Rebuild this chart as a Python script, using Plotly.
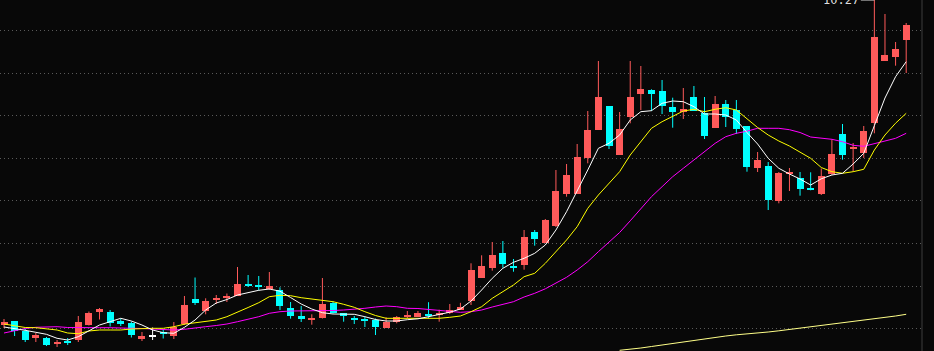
import plotly.graph_objects as go

opens = [7.02, 7.06, 6.96, 6.89, 6.89, 6.83, 6.865, 6.87, 7.02, 7.15, 7.15, 7.06, 7.04, 6.88, 6.905, 6.94, 6.91, 7.03, 7.28, 7.16,
         7.27, 7.29, 7.31, 7.43, 7.413, 7.383, 7.37, 7.19, 7.11, 7.075, 7.093, 7.24, 7.137, 7.073, 7.063, 7.07, 6.993, 7.05, 7.10, 7.102,
         7.13, 7.117, 7.14, 7.173, 7.263, 7.493, 7.593, 7.74, 7.61, 7.62, 7.95, 7.84, 8.013, 8.33, 8.33, 8.693, 8.97, 9.21, 8.723, 9.103,
         9.333, 9.37, 9.36, 9.20, 9.15, 9.30, 9.145, 8.99, 9.23, 9.17, 9.01, 8.593, 8.61, 8.26, 8.535, 8.487, 8.373, 8.333, 8.53, 8.93,
         8.785, 8.743, 9.043, 9.663, 9.703, 9.873]
highs = [7.08, 7.06, 6.98, 6.94, 6.90, 6.87, 6.89, 7.11, 7.155, 7.19, 7.17, 7.085, 7.055, 6.95, 6.995, 6.97, 7.05, 7.31, 7.495, 7.287,
         7.32, 7.335, 7.60, 7.52, 7.51, 7.55, 7.397, 7.25, 7.21, 7.127, 7.49, 7.257, 7.14, 7.11, 7.102, 7.085, 7.097, 7.11, 7.16, 7.16,
         7.248, 7.173, 7.23, 7.242, 7.637, 7.717, 7.85, 7.86, 7.68, 7.97, 7.97, 8.08, 8.57, 8.63, 8.83, 9.16, 9.66, 9.21, 9.15, 9.66,
         9.61, 9.377, 9.47, 9.293, 9.39, 9.41, 9.30, 9.31, 9.27, 9.27, 9.01, 8.75, 8.65, 8.55, 8.59, 8.55, 8.547, 8.585, 8.877, 9.03,
         8.84, 9.01, 10.27, 10.13, 9.85, 10.04]
lows = [6.99, 6.91, 6.85, 6.85, 6.81, 6.80, 6.82, 6.85, 7.015, 7.075, 7.005, 7.01, 6.895, 6.86, 6.87, 6.885, 6.88, 7.02, 7.22, 7.127,
        7.23, 7.25, 7.31, 7.40, 7.365, 7.37, 7.17, 7.083, 7.05, 7.023, 7.085, 7.135, 7.053, 7.03, 7.00, 6.92, 6.993, 7.037, 7.09, 7.10,
        7.087, 7.053, 7.13, 7.17, 7.22, 7.493, 7.563, 7.593, 7.553, 7.573, 7.813, 7.84, 8.00, 8.303, 8.33, 8.637, 8.97, 8.78, 8.723, 9.037,
        9.17, 9.16, 9.13, 8.993, 9.08, 9.16, 8.88, 8.99, 9.00, 8.93, 8.553, 8.55, 8.17, 8.237, 8.36, 8.313, 8.367, 8.32, 8.52, 8.673,
        8.557, 8.69, 8.937, 9.663, 9.613, 9.54]
closes = [7.05, 6.96, 6.87, 6.92, 6.82, 6.85, 6.845, 7.05, 7.14, 7.18, 7.04, 7.03, 6.92, 6.91, 6.905, 6.93, 7.005, 7.22, 7.243, 7.26,
          7.295, 7.305, 7.43, 7.41, 7.407, 7.41, 7.213, 7.113, 7.08, 7.09, 7.23, 7.143, 7.115, 7.07, 7.06, 7.003, 7.053, 7.097, 7.12, 7.143,
          7.113, 7.14, 7.17, 7.20, 7.57, 7.61, 7.72, 7.63, 7.593, 7.897, 7.88, 8.07, 8.36, 8.52, 8.703, 8.97, 9.30, 8.81, 8.98, 9.30,
          9.38, 9.333, 9.213, 9.15, 9.18, 9.16, 8.91, 9.23, 9.103, 8.98, 8.603, 8.67, 8.27, 8.54, 8.547, 8.38, 8.37, 8.51, 8.73, 8.72,
          8.80, 8.96, 9.90, 9.72, 9.78, 10.02]

ma5 = [7.00, 6.985, 6.967, 6.947, 6.927, 6.887, 6.87, 6.903, 6.96, 7.02, 7.053, 7.087, 7.06, 7.02, 6.97, 6.943, 6.937, 6.997, 7.07, 7.17,
       7.24, 7.275, 7.32, 7.345, 7.367, 7.38, 7.358, 7.295, 7.23, 7.18, 7.143, 7.13, 7.128, 7.127, 7.103, 7.075, 7.06, 7.06, 7.073, 7.082,
       7.103, 7.123, 7.148, 7.18, 7.26, 7.37, 7.487, 7.587, 7.647, 7.687, 7.737, 7.82, 7.97, 8.153, 8.37, 8.57, 8.787, 8.837, 8.92, 9.07,
       9.153, 9.163, 9.237, 9.26, 9.253, 9.203, 9.13, 9.13, 9.12, 9.07, 8.945, 8.83, 8.687, 8.587, 8.53, 8.48, 8.42, 8.482, 8.52, 8.537,
       8.63, 8.737, 9.013, 9.29, 9.503, 9.653]
ma10 = [7.03, 7.015, 6.995, 6.993, 6.982, 6.97, 6.94, 6.933, 6.96, 6.97, 6.97, 6.97, 6.98, 6.987, 6.987, 6.987, 7.003, 7.028, 7.043, 7.058,
        7.07, 7.103, 7.153, 7.195, 7.243, 7.303, 7.317, 7.313, 7.293, 7.28, 7.27, 7.253, 7.227, 7.197, 7.153, 7.115, 7.087, 7.087, 7.087, 7.087,
        7.087, 7.087, 7.097, 7.11, 7.153, 7.203, 7.287, 7.353, 7.42, 7.503, 7.537, 7.637, 7.753, 7.87, 8.003, 8.187, 8.32, 8.437, 8.553, 8.72,
        8.853, 8.987, 9.053, 9.103, 9.16, 9.177, 9.153, 9.177, 9.193, 9.17, 9.08, 8.995, 8.92, 8.86, 8.81, 8.745, 8.687, 8.595, 8.553, 8.537,
        8.553, 8.577, 8.77, 8.92, 9.038, 9.137]
ma20 = [6.94, 6.965, 6.985, 6.997, 7.003, 7.003, 6.995, 6.992, 6.993, 6.993, 6.993, 6.993, 6.987, 6.985, 6.98, 6.978, 6.97, 6.977, 6.987, 7.003,
        7.015, 7.03, 7.053, 7.077, 7.103, 7.137, 7.153, 7.16, 7.16, 7.16, 7.163, 7.165, 7.17, 7.177, 7.187, 7.20, 7.21, 7.203, 7.187, 7.185,
        7.177, 7.17, 7.16, 7.147, 7.153, 7.17, 7.20, 7.228, 7.253, 7.30, 7.337, 7.382, 7.437, 7.497, 7.57, 7.653, 7.753, 7.845, 7.945, 8.062,
        8.18, 8.303, 8.403, 8.503, 8.587, 8.67, 8.753, 8.837, 8.903, 8.937, 8.958, 8.987, 8.987, 8.987, 8.973, 8.945, 8.90, 8.887, 8.877, 8.853,
        8.817, 8.807, 8.837, 8.86, 8.887, 8.937]
ma_long = [None] * 58 + [6.767, 6.777, 6.79, 6.805, 6.82, 6.84, 6.855, 6.867, 6.88, 6.895, 6.91, 6.922, 6.93, 6.94, 6.95, 6.962,
                         6.975, 6.987, 7.00, 7.013, 7.027, 7.04, 7.053, 7.067, 7.082, 7.097, 7.11, 7.127]

grid_levels = [9.97, 9.537, 9.113, 8.687, 8.263, 7.837, 7.41, 6.987]

RED = "#ff5a5a"
CYAN = "#00ffff"
WHITE = "#ffffff"

n = len(closes)
idx = list(range(n))

groups = {RED: [], CYAN: [], WHITE: []}
for i in idx:
    if closes[i] > opens[i]:
        groups[RED].append(i)
    elif closes[i] < opens[i]:
        groups[CYAN].append(i)
    else:
        groups[WHITE].append(i)

fig = go.Figure()

# wicks
for col, members in groups.items():
    wx, wy = [], []
    for i in members:
        wx += [i, i, None]
        wy += [lows[i], highs[i], None]
    fig.add_trace(go.Scatter(x=wx, y=wy, mode="lines", line=dict(color=col, width=1),
                             hoverinfo="skip", showlegend=False))

# bodies
for col, members in groups.items():
    bx = members
    base = [min(opens[i], closes[i]) for i in members]
    hgt = [max(abs(closes[i] - opens[i]), 0.012) for i in members]
    fig.add_trace(go.Bar(x=bx, y=hgt, base=base, width=0.66,
                         marker=dict(color=col, line=dict(width=0)), showlegend=False))

# moving averages
for vals, col in [(ma_long, "#ffff88"), (ma20, "#ff00ff"), (ma10, "#ffff00"), (ma5, "#ffffff")]:
    fig.add_trace(go.Scatter(x=idx, y=vals, mode="lines", line=dict(color=col, width=1),
                             connectgaps=False, showlegend=False, hoverinfo="skip"))

imax = highs.index(max(highs))
fig.add_annotation(x=imax, y=highs[imax], text=f"{highs[imax]:.2f}", showarrow=True,
                   arrowhead=0, arrowwidth=1, arrowcolor="#dddddd", ax=-33, ay=-2,
                   font=dict(family="DejaVu Sans Mono", size=12, color="#dddddd"))

fig.add_shape(type="line", xref="paper", yref="paper", x0=1, x1=1, y0=0, y1=1,
              line=dict(color="#3c3c3c", width=1))

fig.update_layout(
    width=934, height=351,
    margin=dict(l=0, r=12, t=0, b=0),
    paper_bgcolor="#080808", plot_bgcolor="#080808",
    barmode="overlay", bargap=0,
    showlegend=False,
    xaxis=dict(range=[-0.377, 86.489], showgrid=False, zeroline=False, showticklabels=False,
               showline=False, fixedrange=True),
    yaxis=dict(range=[6.76, 10.27], tickvals=grid_levels, showgrid=True, gridcolor="#5a5a5a",
               griddash="1px,3px", gridwidth=1, zeroline=False, showticklabels=False, showline=False,
               fixedrange=True),
)

fig.write_html("out.html")
